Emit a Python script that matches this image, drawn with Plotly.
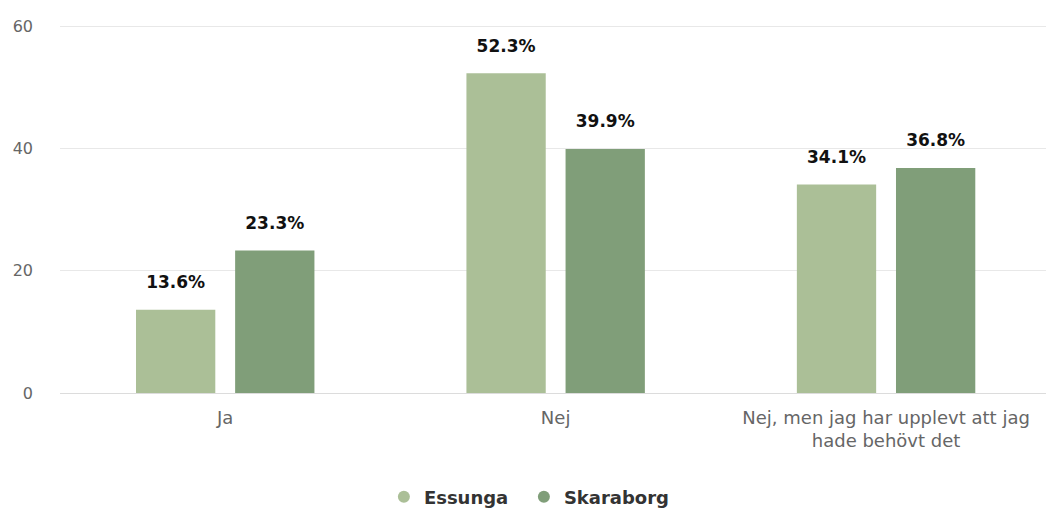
import plotly.graph_objects as go

categories = ["Ja", "Nej", "Nej, men jag har upplevt att jag<br>hade behövt det"]
series_names = ["Essunga", "Skaraborg"]
essunga = [13.6, 52.3, 34.1]
skaraborg = [23.3, 39.9, 36.8]
colors = ["#abbf97", "#809e79"]
y_ticks = [0, 20, 40, 60]

FONT = "DejaVu Sans"
fig = go.Figure()
for name, vals, col in zip(series_names, [essunga, skaraborg], colors):
    fig.add_trace(go.Bar(
        x=categories, y=vals, name=name, marker=dict(color=col, line=dict(width=0)),
        text=[f"<span style='font-size:17px'>{v:.1f}%</span><br>&nbsp;" for v in vals],
        textposition="outside", constraintext="none",
        textfont=dict(family=FONT, size=12, color="#111111", weight="bold"),
        cliponaxis=False, showlegend=False, hoverinfo="skip",
    ))
    fig.add_trace(go.Scatter(
        x=[None], y=[None], mode="markers", name=name,
        marker=dict(symbol="circle", size=18, color=col),
    ))
# invisible spacer entry so the last legend label is not clipped by entrywidth
fig.add_trace(go.Scatter(x=[None], y=[None], mode="markers", name=" ",
                         marker=dict(color="rgba(0,0,0,0)", size=1), hoverinfo="skip"))

fig.update_layout(
    width=1046, height=513,
    margin=dict(l=60, r=0, t=23, b=120),
    paper_bgcolor="white", plot_bgcolor="white",
    barmode="group", bargap=0.4, bargroupgap=0.2,
    font=dict(family=FONT, color="#666666", size=16),
    showlegend=True,
    legend=dict(orientation="h", xref="container", x=0.367, xanchor="left",
                yref="container", y=0.031, yanchor="middle",
                font=dict(family=FONT, size=18, color="#333333", weight="bold"),
                itemsizing="constant", traceorder="normal", entrywidth=95),
    yaxis=dict(range=[0, 60.5], tickvals=y_ticks, showgrid=True, gridcolor="#e8e8e8",
               zeroline=True, zerolinecolor="#dcdcdc", zerolinewidth=1, automargin=False,
               ticklabelstandoff=26, tickfont=dict(size=16, color="#666666"), fixedrange=True),
    xaxis=dict(showline=False, tickfont=dict(size=18, color="#666666"), ticks="",
               range=[-0.5, 2.484], automargin=False, ticklabelstandoff=12, fixedrange=True),
)
fig.write_html("out.html", config={"displayModeBar": False},
               post_script="document.body.style.margin='0';document.body.style.padding='0';")
